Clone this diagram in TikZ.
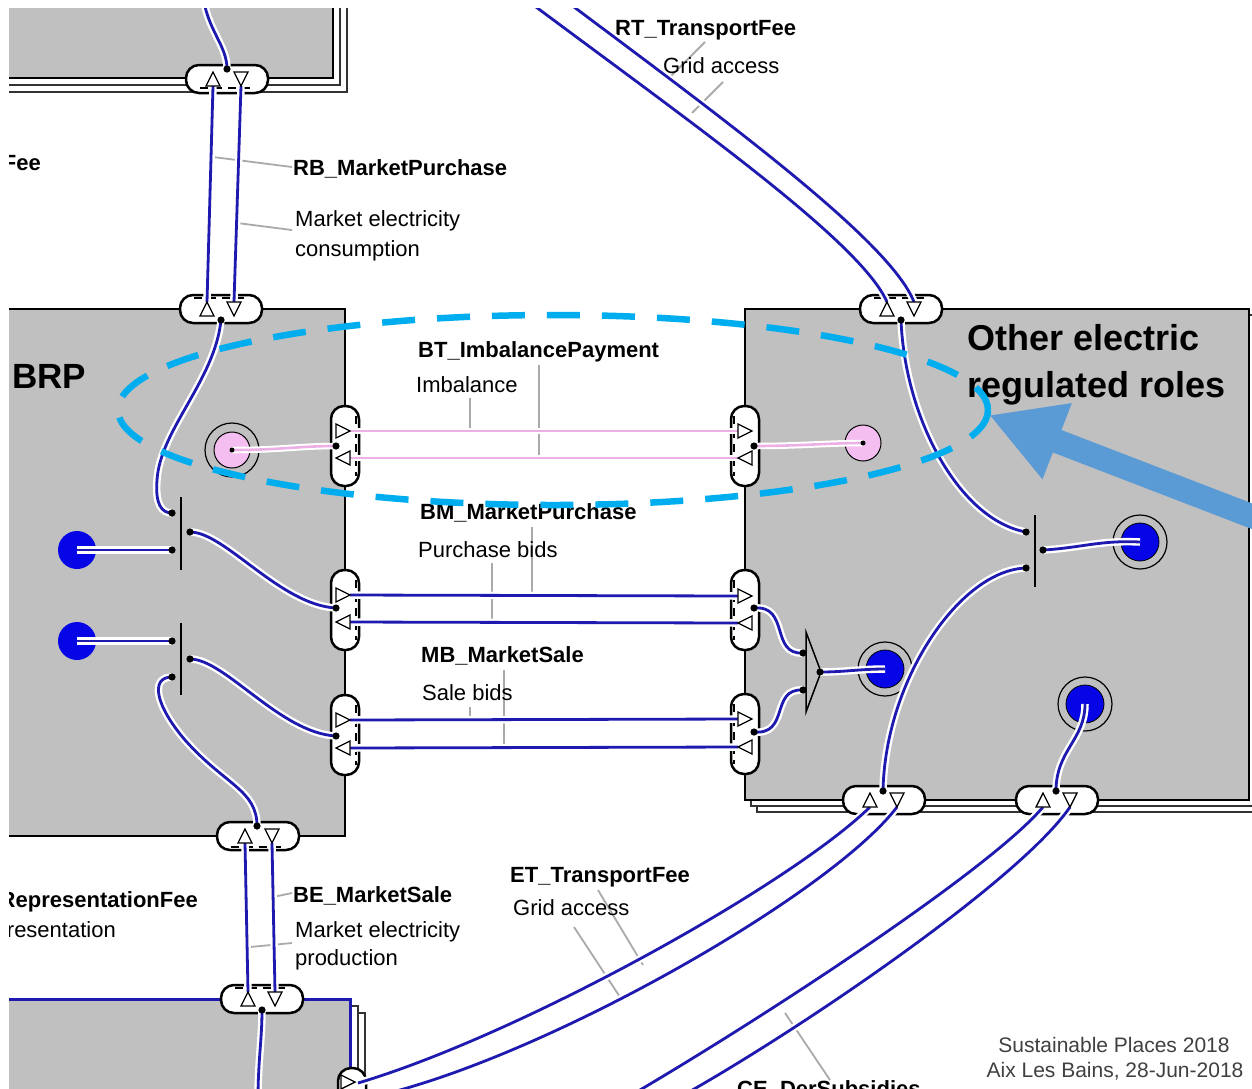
\documentclass[tikz,border=0pt]{standalone}
\usepackage{fontspec}
\setmainfont{Liberation Sans}
\usetikzlibrary{arrows.meta}
\definecolor{boxgray}{RGB}{192,192,192}
\definecolor{wireblue}{RGB}{30,25,175}
\definecolor{dotblue}{RGB}{5,5,230}
\definecolor{pinkw}{RGB}{236,176,230}
\definecolor{pinkf}{RGB}{244,190,240}
\definecolor{ptr}{RGB}{170,170,170}
\definecolor{ellc}{RGB}{0,174,239}
\definecolor{arrc}{RGB}{91,155,213}
\definecolor{foot}{RGB}{64,64,64}
\newcommand{\mytriU}[2]{\draw[tri] ({#1-7},{#2+7}) -- ({#1+7},{#2+7}) -- ({#1},{#2-7}) -- cycle;}
\newcommand{\mytriD}[2]{\draw[tri] ({#1-7},{#2-7}) -- ({#1+7},{#2-7}) -- ({#1},{#2+7}) -- cycle;}
\newcommand{\mytriR}[2]{\draw[tri] ({#1-7},{#2-7}) -- ({#1-7},{#2+7}) -- ({#1+7},{#2}) -- cycle;}
\newcommand{\mytriL}[2]{\draw[tri] ({#1+7},{#2-7}) -- ({#1+7},{#2+7}) -- ({#1-7},{#2}) -- cycle;}
\begin{document}
\begin{tikzpicture}[x=1pt,y=-1pt,
  box/.style={fill=boxgray, draw=black, line width=2.5},
  backbox/.style={fill=white, draw=black!80, line width=1.8},
  pill/.style={draw=black, fill=white, line width=2.5, rounded corners=13, inner sep=0},
  hpill/.style={pill, minimum width=82, minimum height=28},
  vpill/.style={pill, minimum width=28, minimum height=80},
  tri/.style={draw=black, fill=white, line width=1.3},
  wire/.style={draw=wireblue, line width=2.8, preaction={draw=white, line width=7.5}},
  pwire/.style={draw=pinkw, line width=2.6, preaction={draw=white, line width=6.5}},
  ptrline/.style={draw=ptr, line width=1.8},
  pdash/.style={draw=black, line width=2, dash pattern=on 8pt off 6pt},
  ring/.style={circle, draw=black, line width=1.2, fill=boxgray, minimum size=54, inner sep=0},
  bdisk/.style={circle, fill=dotblue, draw=black, line width=0.8, minimum size=38, inner sep=0},
  pdisk/.style={circle, fill=pinkf, draw=black, line width=1, minimum size=36, inner sep=0},
  bl/.style={font=\fontsize{22}{26}\selectfont\bfseries, inner sep=0, anchor=base west},
  rl/.style={font=\fontsize{22}{26}\selectfont, inner sep=0, anchor=base west},
  big/.style={font=\fontsize{36}{40}\selectfont\bfseries, inner sep=0, anchor=base west},
  ft/.style={font=\fontsize{21}{25}\selectfont, text=foot, inner sep=0, anchor=base}]
\useasboundingbox (0,0) rectangle (1252,1088);
\fill[white] (0,0) rectangle (1252,1088);
\begin{scope}
\clip (9,8) rectangle (1252,1088);
% ---------- boxes
\draw[backbox] (-20,-20) rectangle (347,92);
\draw[backbox] (-20,-20) rectangle (340,85);
\draw[box] (-20,-20) rectangle (333,78);
\draw[box] (-20,309) rectangle (345,836);
\draw[backbox] (757,321) rectangle (1261,812);
\draw[backbox] (751,315) rectangle (1255,806);
\draw[box] (745,309) rectangle (1249,800);
\draw[backbox] (-20,1013) rectangle (365,1200);
\draw[backbox] (-20,1006) rectangle (358,1200);
\draw[box, draw=wireblue, line width=3] (-20,999) rectangle (350,1200);
% ---------- pointer lines
\draw[ptrline] (213,157) -- (292,167);
\draw[ptrline] (237,223) -- (292,230);
\draw[ptrline] (539,365) -- (539,458);
\draw[ptrline] (470,398) -- (470,431);
\draw[ptrline] (532,527) -- (532,595);
\draw[ptrline] (492,563) -- (492,622);
\draw[ptrline] (504,670) -- (504,748);
\draw[ptrline] (470,707) -- (470,720);
\draw[ptrline] (705,42) -- (670,77);
\draw[ptrline] (723,82) -- (692,113);
\draw[ptrline] (273,897) -- (292,893);
\draw[ptrline] (250,947) -- (292,943);
\draw[ptrline] (598,890) -- (643,965);
\draw[ptrline] (574,927) -- (620,997);
\draw[ptrline] (785,1013) -- (830,1080);
% ---------- labels
\node[bl, anchor=base east] (feeL) at (41,170) {Fee};
\node[bl] (rbL) at (293,175) {RB\_MarketPurchase};
\node[rl] (rbD1) at (295,226) {Market electricity};
\node[rl] (rbD2) at (295,256) {consumption};
\node[bl] (btL) at (418,357) {BT\_ImbalancePayment};
\node[rl] (btD) at (416,392) {Imbalance};
\node[bl] (bmL) at (420,519) {BM\_MarketPurchase};
\node[rl] (bmD) at (418,557) {Purchase bids};
\node[bl] (mbL) at (421,662) {MB\_MarketSale};
\node[rl] (mbD) at (422,700) {Sale bids};
\node[bl] (rtL) at (615,35) {RT\_TransportFee};
\node[rl] (rtDs) at (663,73) {Grid access};
\node[bl] (beL) at (293,902) {BE\_MarketSale};
\node[rl] (beD1) at (295,937) {Market electricity};
\node[rl] (beD2) at (295,965) {production};
\node[bl, anchor=base east] (repL) at (198,907) {RepresentationFee};
\node[rl, anchor=base east] (repD) at (116,937) {Representation};
\node[bl] (etL) at (510,882) {ET\_TransportFee};
\node[rl] (etD) at (513,915) {Grid access};
\node[bl] (ceL) at (737,1096) {CE\_DerSubsidies};
\node[big] (oer1) at (967,350) {Other electric};
\node[big] (oer2) at (967,397) {regulated roles};
\node[big, font=\fontsize{35}{40}\selectfont\bfseries] (brp) at (12,388) {BRP};
% ---------- pills
\node[hpill] (tpP) at (227,79) {};
\node[hpill] (btP) at (221,309) {};
\node[hpill] (bbP) at (258,836) {};
\node[hpill] (botP) at (262,999) {};
\node[hpill] (rtP) at (901,309) {};
\node[hpill] (rb1P) at (884,800) {};
\node[hpill] (rb2P) at (1057,800) {};
\node[vpill] (liP) at (345,446) {};
\node[vpill] (lbP) at (345,610) {};
\node[vpill] (lmP) at (345,735) {};
\node[vpill] (riP) at (745,446) {};
\node[vpill] (rbP) at (745,610) {};
\node[vpill] (rmP) at (745,734) {};
\node[vpill] (botR) at (352,1108) {};
% pill dashes (box border seen through the port)
\draw[pdash] (200,88) -- (254,88);
\draw[pdash] (194,298) -- (248,298);
\draw[pdash] (231,847) -- (285,847);
\draw[pdash] (235,988) -- (289,988);
\draw[pdash] (874,298) -- (928,298);
\foreach \cy in {446,610,735} {\draw[pdash] (356,\cy-30) -- (356,\cy+30);}
\foreach \cy in {446,610,734} {\draw[pdash] (734,\cy-30) -- (734,\cy+30);}
% ---------- bars and merger
\draw[line width=1.5] (181,497) -- (181,570);
\draw[line width=1.5] (181,623) -- (181,695);
\draw[line width=1.5] (1035,515) -- (1035,587);
\draw[line width=1.5, fill=boxgray] (806,632) -- (821,672) -- (806,712) -- cycle;
% ---------- circles
\node[ring] (pinkLr) at (232,450) {};
\node[pdisk] (pinkL) at (232,450) {};
\node[pdisk] (pinkR) at (863,443) {};
\node[bdisk, draw=none] (blueL1) at (77,550) {};
\node[bdisk, draw=none] (blueL2) at (77,641) {};
\node[ring] (blueR1r) at (1140,542) {};
\node[bdisk] (blueR1) at (1140,542) {};
\node[ring] (blueMr) at (885,669) {};
\node[bdisk] (blueM) at (885,669) {};
\node[ring] (blueR2r) at (1085,704) {};
\node[bdisk] (blueR2) at (1085,704) {};
% ---------- coordinates
\coordinate (tpD) at (227,69);
\coordinate (tpTop) at (203,-5);
\coordinate (btD) at (221,320);
\coordinate (b1a) at (172,513);
\coordinate (b1r) at (190,532);
\coordinate (b1b) at (172,550);
\coordinate (b2a) at (172,641);
\coordinate (b2r) at (190,659);
\coordinate (b2b) at (172,677);
\coordinate (bbD) at (257,826);
\coordinate (botD) at (262,1010);
\coordinate (botEnd) at (258,1100);
\coordinate (lpI) at (336,446);
\coordinate (lpB) at (336,608);
\coordinate (lpM) at (336,736);
\coordinate (rpI) at (754,446);
\coordinate (rpB) at (754,608);
\coordinate (rpM) at (754,732);
\coordinate (mIn1) at (803,653);
\coordinate (mIn2) at (803,690);
\coordinate (mOut) at (820,672);
\coordinate (rtD) at (901,320);
\coordinate (r1a) at (1026,532);
\coordinate (r1r) at (1043,550);
\coordinate (r1b) at (1026,568);
\coordinate (rb1D) at (883,791);
\coordinate (rb2D) at (1056,791);
\coordinate (tpL) at (213,86);
\coordinate (tpR) at (241,86);
\coordinate (btLa) at (207,302);
\coordinate (btRa) at (234,302);
\coordinate (bbL) at (245,843);
\coordinate (bbR) at (272,843);
\coordinate (botL) at (248,992);
\coordinate (botRr) at (275,992);
\coordinate (rtS1) at (520,-5);
\coordinate (rtS2) at (558,-5);
\coordinate (rtLa) at (887,302);
\coordinate (rtRa) at (914,302);
\coordinate (etS1) at (358,1083);
\coordinate (etS2) at (372,1097);
\coordinate (rb1L) at (870,807);
\coordinate (rb1R) at (897,807);
\coordinate (ceS1) at (628,1097);
\coordinate (ceS2) at (680,1097);
\coordinate (rb2L) at (1043,807);
\coordinate (rb2R) at (1070,807);
% ---------- wires
\draw[wire] (tpD) .. controls (227,45) and (207,30) .. (tpTop);
\draw[wire] (tpL) -- (btLa);
\draw[wire] (tpR) -- (btRa);
\draw[wire] (btD) .. controls (215,380) and (160,430) .. (157,480) .. controls (155,505) and (162,513) .. (b1a);
\draw[wire] (blueL1.center) -- (b1b);
\draw[wire] (blueL2.center) -- (b2a);
\draw[wire] (b1r) .. controls (225,532) and (280,605) .. (lpB);
\draw[wire] (b2r) .. controls (225,659) and (280,733) .. (lpM);
\draw[wire] (b2b) .. controls (150,677) and (155,705) .. (185,740) .. controls (225,785) and (257,790) .. (bbD);
\draw[wire] (bbL) -- (botL);
\draw[wire] (bbR) -- (botRr);
\draw[wire] (botD) .. controls (262,1040) and (258,1060) .. (botEnd);
\draw[wire] (350,595) -- (738,596);
\draw[wire] (350,622) -- (738,623);
\draw[wire] (350,720) -- (738,719);
\draw[wire] (350,748) -- (738,747);
\draw[pwire] (350,431) -- (738,431);
\draw[pwire] (350,458) -- (738,458);
\draw[pwire] (pinkL.center) .. controls (280,450) and (300,446) .. (lpI);
\draw[pwire] (rpI) .. controls (800,446) and (830,443) .. (pinkR.center);
\draw[wire] (rpB) .. controls (790,605) and (770,655) .. (mIn1);
\draw[wire] (rpM) .. controls (790,735) and (770,688) .. (mIn2);
\draw[wire] (mOut) .. controls (845,672) and (860,669) .. (blueM.center);
\draw[wire] (rtD) .. controls (905,420) and (960,520) .. (r1a);
\draw[wire] (r1r) .. controls (1080,548) and (1100,540) .. (blueR1.center);
\draw[wire] (r1b) .. controls (960,570) and (885,680) .. (rb1D);
\draw[wire] (blueR2.center) .. controls (1085,740) and (1056,750) .. (rb2D);
\draw[wire] (rtS1) .. controls (680,115) and (860,240) .. (rtLa);
\draw[wire] (rtS2) .. controls (718,115) and (890,240) .. (rtRa);
\draw[wire] (etS1) .. controls (520,1035) and (790,885) .. (rb1L);
\draw[wire] (etS2) .. controls (540,1060) and (830,895) .. (rb1R);
\draw[wire] (ceS1) .. controls (760,1020) and (990,870) .. (rb2L);
\draw[wire] (ceS2) .. controls (800,1030) and (1020,880) .. (rb2R);
% ---------- triangles
\mytriU{213}{79} \mytriD{241}{79}
\mytriU{207}{309} \mytriD{234}{309}
\mytriU{245}{836} \mytriD{272}{836}
\mytriU{248}{999} \mytriD{275}{999}
\mytriU{887}{309} \mytriD{914}{309}
\mytriU{870}{800} \mytriD{897}{800}
\mytriU{1043}{800} \mytriD{1070}{800}
\mytriR{343}{431} \mytriL{343}{458}
\mytriR{745}{431} \mytriL{745}{458}
\mytriR{343}{595} \mytriL{343}{622}
\mytriR{745}{596} \mytriL{745}{623}
\mytriR{343}{720} \mytriL{343}{748}
\mytriR{745}{719} \mytriL{745}{747}
\mytriR{348}{1082}
% ---------- dots
\foreach \p in {tpD,btD,b1a,b1r,b1b,b2a,b2r,b2b,bbD,botD,lpI,lpB,lpM,rpI,rpB,rpM,mIn1,mIn2,mOut,rtD,r1a,r1r,r1b,rb1D,rb2D}
  {\fill[black] (\p) circle (3.6);}
\fill[black] (pinkL.center) circle (2.5);
\fill[black] (pinkR.center) circle (2.5);
% ---------- footer
\node[ft] (foot1) at (1114,1052) {Sustainable Places 2018};
\node[ft] (foot2) at (1115,1077) {Aix Les Bains, 28-Jun-2018};
% ---------- highlight
\draw[arrc, line width=24, -{Triangle[length=73pt, width=76pt]}] (1280,527) -- (989,415);
\draw[ellc, line width=6.5, dash pattern=on 33pt off 22pt] (553,410) ellipse [x radius=435, y radius=95];
\end{scope}
\end{tikzpicture}
\end{document}
